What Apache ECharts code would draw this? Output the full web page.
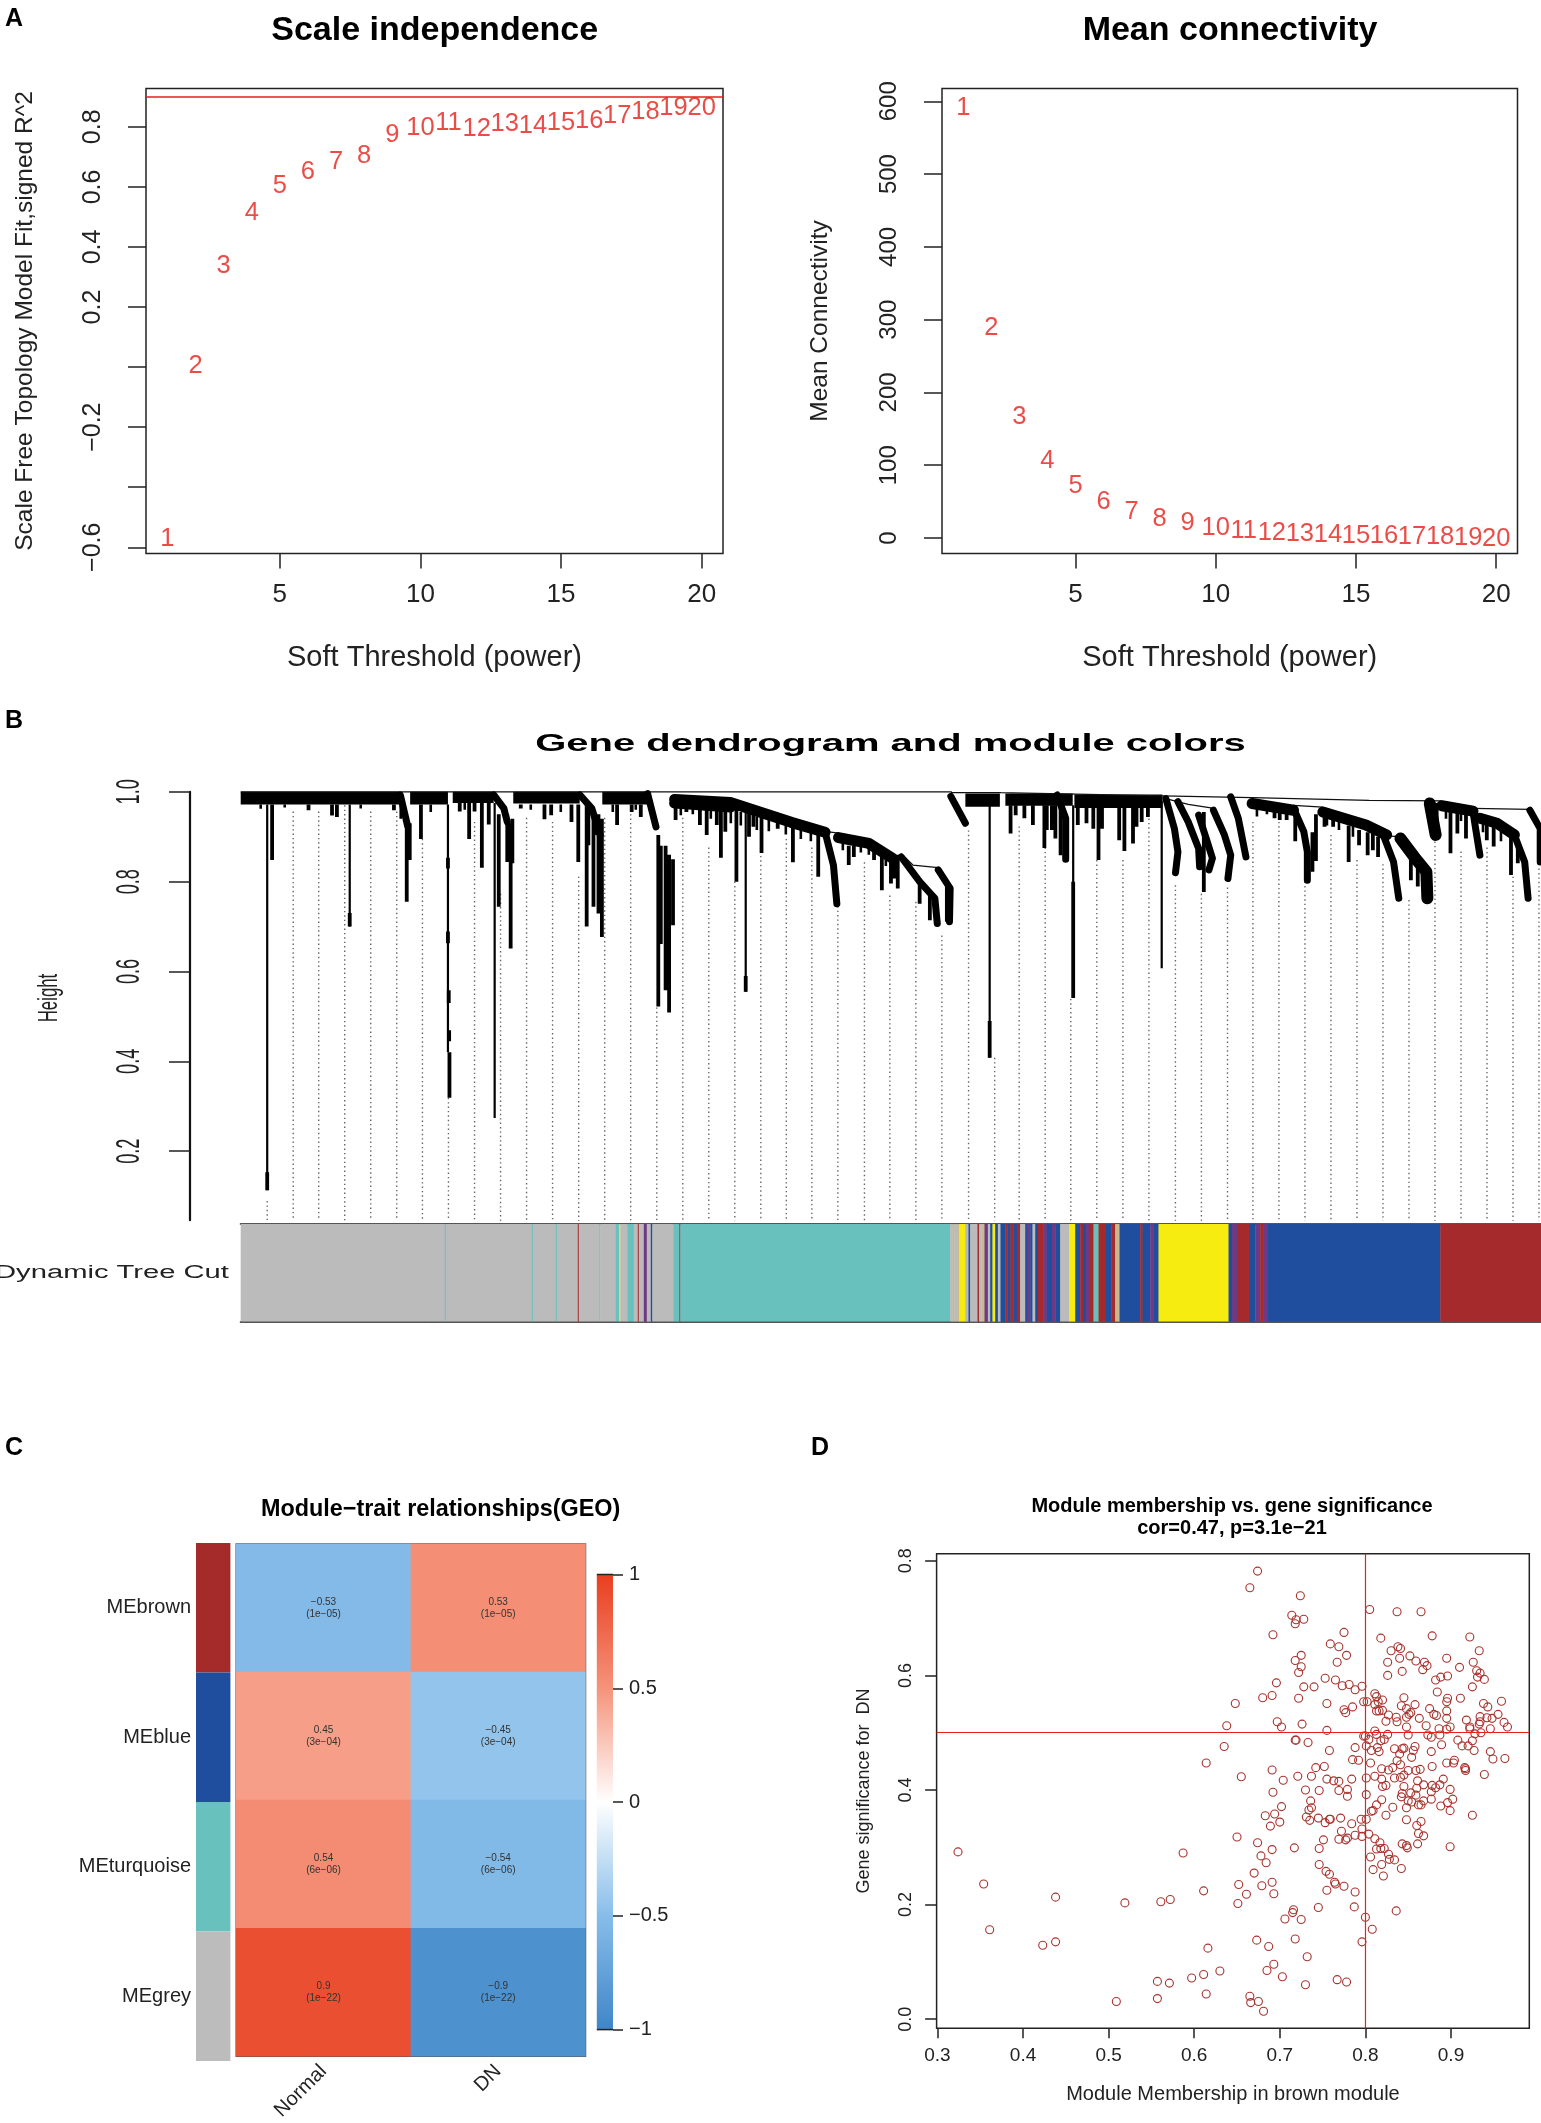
<!DOCTYPE html>
<html><head><meta charset="utf-8">
<style>html,body{margin:0;padding:0;background:#fff}#c{width:1541px;height:2123px}</style>
<script src="https://cdn.jsdelivr.net/npm/echarts@6/dist/echarts.min.js"></script>
</head><body><div id="c"></div>
<script>
// ---------- Panel A ----------
const powers=[1,2,3,4,5,6,7,8,9,10,11,12,13,14,15,16,17,18,19,20];
const scaleFit=[-0.564,0.012,0.344,0.521,0.61,0.656,0.69,0.709,0.781,0.803,0.818,0.80,0.815,0.81,0.818,0.825,0.842,0.856,0.868,0.868];
const meanK=[593,291,169,108,74,52,39,29,23,17,13,10,9,7,6,5,4,3.7,3,2];
const cutHeight=0.9;
// ---------- Panel B : gene rank (0-1300) and tree height ----------
const guideX=[26.5,52.5,78,104,130,156,181.7,207.7,233.8,259.8,285.8,311.8,337.9,363.9,389.9,416,442,468,494,520,545.5,571,597,623.6,649,675,701,727.7,753.8,778.3,804.3,829.9,855.9,882,908,934.5,960.5,986.6,1012,1038,1064,1090,1116,1142,1168,1194,1220,1246,1272,1298];
const guideTop=[.089,.956,.956,.97,.956,.956,.895,.319,.933,.773,.942,.933,.811,.942,.96,.52,.942,.876,.80,.867,.895,.876,.755,.843,.769,.755,.68,.914,.408,.923,.876,.539,.848,.848,.96,.792,.773,.787,.933,.933,.80,.904,.848,.839,.759,.909,.867,.876,.811,.829];
const topBands=[[0,159.6,1,.972],[169.4,207.2,1,.972],[212,252.9,1,.975],[272.5,338.9,1,.974],[361.5,407.6,1,.972],[724.5,759,.996,.967],[764.5,831.8,.996,.969],[833.5,921.5,.994,.964]];
const thinLinks=[[[0,1],[711,1]],[[759.3,.998],[921.5,.991],[1011,.987],[1128,.981],[1200.9,.98]],[[924.9,.985],[947.3,.972],[973.2,.963]],[[1052.6,.97],[1081.9,.966]],[[1145.7,.902],[1157.8,.9]],[[1232,.963],[1288.9,.961]],[[660.3,.863],[672,.837],[697.4,.831]],[[584.2,.912],[597.7,.908]],[[710,.998],[760,.998]]];
const longSpikes=[[26.5,.972,.113],[207.2,.972,.42],[253.9,.975,.274],[748.8,.97,.408],[832.3,.97,.541],[920.8,.98,.607],[504.9,.975,.555],[109,.972,.70]];
const thickSpikes=[[26.5,.153,.113],[207.2,.853,.829],[207.2,.689,.663],[208,.558,.53],[208.4,.469,.445],[208.7,.42,.319],[748.8,.49,.408],[832.3,.8,.541],[504.9,.59,.555],[109,.73,.70],
[31.4,.972,.848],[67.8,.972,.959],[91.3,.972,.947],[96.2,.972,.944],[153.2,.972,.959],[166,.923,.755],[169,.93,.848],[180.2,.972,.895],[219,.975,.956],[228.4,.975,.895],[233.8,.975,.956],[241.1,.975,.831],[248,.975,.927],[258,.95,.744],[266.5,.95,.844],[269.9,.93,.651],[271.6,.94,.841],[280,.972,.963],[303.7,.972,.939],[310.4,.972,.948],[330.7,.972,.933],[337.5,.972,.844],[345.9,.97,.70],[347.6,.96,.881],[352.7,.96,.744],[354.4,.95,.904],[357.7,.95,.729],[361.1,.94,.677],[376.3,.972,.926],[390.9,.972,.955],[400,.972,.944],[417.5,.904,.522],[420,.88,.661],[424.8,.88,.558],[428.3,.86,.509],[432.2,.85,.703],
[434.8,.98,.937],[445.6,.98,.955],[459.1,.98,.926],[465.9,.98,.904],[476,.98,.926],[480.1,.98,.853],[484.5,.98,.911],[495.6,.975,.80],[508.2,.96,.90],[512.6,.96,.922],[520.7,.95,.864],[536.9,.94,.918],[552.1,.93,.843],[577.4,.91,.811],[607.9,.88,.837],[613,.88,.855],[633.2,.88,.848],[641,.87,.781],[650.1,.86,.796],[653.5,.86,.807],[656.9,.86,.785],[678.8,.80,.751],[689,.77,.714],[706,.79,.711],
[769.7,.97,.907],[774.8,.97,.948],[783.5,.97,.941],[792,.97,.926],[803.5,.97,.875],[805.9,.97,.915],[811,.97,.915],[814.5,.97,.896],[819.7,.97,.859],[836.9,.97,.926],[845.6,.97,.93],[852.4,.97,.918],[857.6,.97,.848],[861.1,.97,.918],[878.3,.97,.892],[883.5,.97,.868],[892.1,.97,.885],[895.6,.97,.922],[900.8,.97,.933],[907,.97,.944],[962.9,.955,.777],[1033.6,.965,.941],[1038.8,.965,.937],[1045.7,.965,.937],[1054.3,.96,.89],[1071.5,.91,.822],[1075,.95,.846],[1083.6,.95,.922],[1092.2,.94,.922],[1107.7,.925,.844],[1118.1,.915,.881],[1126.7,.91,.859],[1131.9,.91,.87],[1137.1,.90,.855],[1169.9,.87,.803],[1176.8,.86,.789],[1190.6,.97,.915],[1195.7,.975,.90],[1209.5,.96,.863],[1216.4,.96,.907],[1225,.955,.896],[1245.8,.935,.892],[1252.7,.93,.878],[1270,.90,.815],[1276.8,.89,.841]];
const fringe=[[160,.97,.94],[20,.972,.962],[44,.972,.965],[120,.972,.963],[190,.972,.955],[224,.975,.96],[290,.972,.96],[320,.972,.955],[350,.972,.95],[372,.972,.955],[395,.972,.96],[440,.97,.948],[452,.97,.95],[470,.97,.94],[490,.965,.93],[500,.955,.925],[516,.945,.915],[528,.94,.912],[545,.93,.905],[560,.92,.895],[570,.915,.89],[602,.895,.87],[620,.885,.865],[628,.88,.86],[645,.865,.835],[1016,.97,.945],[1026,.97,.95],[1086,.95,.925],[1098,.94,.915],[1112,.93,.9],[1205,.965,.94],[1220,.96,.935],[1242,.94,.91],[1260,.925,.89]];
const wideArcs=[[[433.8,.983],[489.6,.976],[550.4,.932],[584.2,.91]],[[433.8,.975],[489.6,.966]],[[597.7,.898],[628.1,.885],[651.8,.852]],[[1011.2,.974],[1052.6,.959]],[[1081.9,.955],[1125,.926],[1145.7,.904]],[[1200.9,.969],[1232,.957]],[[1238.9,.941],[1256,.93],[1273.4,.904]]];
const mediumArcs=[[[406.8,.996],[415.2,.922]],[[710,.99],[724.5,.93]],[[660.3,.855],[678.8,.80],[694,.763],[696.4,.707]],[[697.4,.826],[709.3,.785],[708.6,.711]],[[584.2,.911],[592.6,.837],[596,.751]],[[339.2,.993],[351,.963],[359.4,.904]],[[253,.993],[263.1,.963],[266.5,.933]],[[816.2,.993],[824.8,.941],[824.8,.85]],[[989.8,.989],[997.4,.941],[1005,.855]],[[924.9,.985],[933.5,.918],[937,.866],[934.6,.82]],[[937,.978],[947.3,.933],[957.7,.874],[958.7,.833]],[[957.7,.948],[966.3,.889],[971.5,.852],[968,.826]],[[972.5,.959],[983.5,.904],[989.8,.859],[987,.807]],[[1052.6,.963],[1062.9,.911],[1066.4,.866],[1066.4,.803]],[[1142.3,.904],[1152.6,.844],[1157.8,.763]],[[1232,.955],[1238.9,.859]],[[1273.4,.904],[1283.7,.844],[1287.1,.763]],[[1288.9,.959],[1299.2,.918],[1299.2,.844]],[[159.6,.993],[167,.923]]];
const heavyArcs=[[[1159.5,.896],[1173.3,.855],[1185.4,.822],[1186.4,.763]],[[1188.8,.974],[1194.7,.904]]];
const moduleSegments=[[204,'g'],[205,'t'],[291,'g'],[292,'t'],[315,'g'],[316,'t'],[337,'g'],[338,'r'],[358.5,'g'],[359.5,'t'],[375,'g'],[378.5,'t'],[379.5,'y'],[386.5,'g'],[393,'t'],[397,'g'],[398,'r'],[403,'g'],[406,'p'],[410,'g'],[411.5,'b'],[432.5,'g'],[438.5,'t'],[439.5,'r'],[709.3,'t'],[711.6,'g'],[713.3,'o'],[716.3,'g'],[718.3,'o'],[724.3,'y'],[727.6,'g'],[729.3,'b'],[736.6,'g'],[738.3,'r'],[740.3,'g'],[743.6,'o'],[747,'p'],[749.3,'g'],[751.6,'b'],[754.3,'y'],[757,'b'],[759.6,'g'],[764.3,'b'],[766.3,'r'],[769.6,'b'],[772.6,'r'],[776,'b'],[779.3,'r'],[784.3,'g'],[786,'b'],[789.3,'p'],[791.6,'b'],[794.3,'g'],[797,'b'],[802.6,'r'],[806,'p'],[811,'b'],[814.3,'p'],[819.3,'b'],[828.3,'g'],[834.3,'y'],[839.3,'b'],[842,'r'],[845,'b'],[848,'p'],[852.6,'r'],[857.6,'t'],[865,'r'],[870.3,'b'],[874.3,'r'],[878.6,'o'],[899.3,'b'],[901.6,'r'],[909.3,'b'],[912.6,'p'],[917.6,'b'],[987.6,'y'],[991,'b'],[996,'p'],[1008.7,'r'],[1014.3,'b'],[1019.3,'p'],[1022.6,'r'],[1027,'p'],[1199.3,'b'],[1300,'r']];
const moduleColors={g:'#BBBBBB',t:'#68C1BD',y:'#F7EC0F',b:'#1F4E9F',r:'#A42A2B',p:'#6E3A86',o:'#C9B98F'};
const heightTicks=[.2,.4,.6,.8,1];
// ---------- Panel C ----------
const modules=['MEbrown','MEblue','MEturquoise','MEgrey'];
const moduleFill=['#A52A2A','#1F4E9F','#68C1BD','#BCBCBC'];
const traits=['Normal','DN'];
const corNormal=[-0.53,0.45,0.54,0.9];
const corDN=[0.53,-0.45,-0.54,-0.9];
const pValues=['1e−05','3e−04','6e−06','1e−22'];
const corrTicks=[-1,-.5,0,.5,1];
const corrPalette=['#3F86C8','#87BDEA','#FFFFFF','#F5937A','#E93E1F'];
// ---------- Panel D ----------
const brownPoints=[[.324,.292],[.354,.236],[.361,.156],[.423,.129],[.438,.135],[.438,.213],[.519,.203],[.509,.031],[.561,.205],[.572,.209],[.557,.066],[.557,.036],[.571,.063],[.597,.072],[.587,.29],[.611,.224],[.611,.078],[.614,.044],[.616,.124],[.63,.084],[.614,.447],[.635,.476],[.638,.512],[.648,.551],[.655,.423],[.65,.318],[.652,.235],[.651,.202],[.661,.218],[.665,.04],[.666,.029],[.675,.031],[.681,.014],[.665,.753],[.674,.782],[.685,.085],[.673,.138],[.687,.127],[.693,.096],[.703,.074],[.67,.255],[.674,.308],[.678,.285],[.684,.273],[.679,.233],[.691,.239],[.693,.219],[.691,.296],[.689,.337],[.683,.355],[.694,.358],[.7,.344],[.702,.371],[.692,.396],[.691,.435],[.704,.417],[.721,.424],[.68,.561],[.691,.565],[.696,.587],[.692,.671],[.697,.519],[.702,.51],[.718,.487],[.719,.487],[.726,.515],[.722,.56],[.728,.58],[.74,.58],[.722,.605],[.725,.615],[.718,.626],[.725,.635],[.714,.705],[.719,.697],[.718,.69],[.728,.698],[.724,.739],[.733,.483],[.737,.424],[.742,.439],[.752,.441],[.73,.4],[.746,.399],[.736,.381],[.737,.369],[.734,.365],[.731,.353],[.735,.347],[.745,.351],[.753,.343],[.758,.349],[.759,.349],[.771,.351],[.772,.328],[.769,.314],[.777,.313],[.779,.316],[.784,.341],[.751,.313],[.746,.298],[.717,.299],[.746,.27],[.754,.258],[.758,.253],[.764,.239],[.765,.236],[.775,.232],[.755,.225],[.788,.222],[.745,.195],[.716,.191],[.715,.186],[.706,.175],[.725,.174],[.718,.14],[.732,.109],[.73,.06],[.767,.069],[.778,.065],[.796,.135],[.787,.196],[.8,.178],[.808,.157],[.836,.189],[.759,.655],[.769,.65],[.775,.675],[.778,.635],[.767,.623],[.753,.595],[.765,.592],[.773,.582],[.781,.584],[.788,.575],[.796,.581],[.755,.551],[.775,.54],[.777,.535],[.785,.545],[.755,.504],[.758,.469],[.788,.474],[.785,.453],[.792,.452],[.755,.419],[.763,.416],[.769,.415],[.784,.419],[.769,.399],[.779,.401],[.779,.389],[.801,.421],[.801,.392],[.795,.349],[.801,.349],[.796,.332],[.788,.321],[.796,.319],[.804,.323],[.798,.554],[.802,.554],[.798,.494],[.8,.494],[.804,.488],[.801,.477],[.811,.568],[.813,.563],[.805,.715],[.818,.665],[.837,.711],[.865,.711],[.878,.669],[.922,.667],[.838,.65],[.841,.647],[.83,.643],[.933,.643],[.852,.634],[.84,.63],[.895,.63],[.826,.623],[.859,.625],[.869,.623],[.872,.617],[.867,.61],[.843,.607],[.91,.614],[.926,.623],[.93,.608],[.934,.604],[.931,.597],[.826,.6],[.939,.593],[.882,.592],[.888,.597],[.896,.599],[.925,.58],[.884,.571],[.911,.56],[.896,.56],[.895,.554],[.845,.561],[.82,.557],[.842,.547],[.848,.542],[.858,.549],[.938,.551],[.943,.545],[.959,.555],[.815,.554],[.811,.549],[.813,.538],[.816,.538],[.82,.539],[.875,.542],[.853,.535],[.851,.532],[.848,.527],[.836,.527],[.837,.519],[.824,.52],[.827,.531],[.863,.525],[.88,.532],[.883,.53],[.895,.538],[.895,.525],[.918,.522],[.934,.528],[.934,.519],[.942,.526],[.948,.525],[.955,.532],[.962,.518],[.966,.51],[.946,.507],[.933,.515],[.922,.51],[.922,.507],[.899,.51],[.895,.506],[.871,.512],[.886,.507],[.848,.51],[.811,.503],[.813,.497],[.826,.497],[.85,.496],[.873,.496],[.877,.492],[.887,.496],[.935,.5],[.928,.498],[.925,.486],[.908,.487],[.913,.477],[.92,.477],[.927,.469],[.889,.479],[.877,.467],[.858,.476],[.843,.472],[.834,.472],[.845,.473],[.84,.463],[.854,.457],[.856,.469],[.816,.467],[.807,.469],[.814,.474],[.818,.486],[.822,.488],[.837,.451],[.841,.444],[.806,.447],[.819,.437],[.811,.424],[.819,.419],[.827,.435],[.832,.439],[.85,.434],[.859,.434],[.864,.436],[.878,.441],[.895,.447],[.903,.447],[.904,.452],[.916,.439],[.917,.437],[.917,.434],[.946,.467],[.949,.454],[.963,.455],[.939,.427],[.834,.421],[.841,.422],[.845,.426],[.861,.416],[.891,.419],[.887,.409],[.878,.408],[.882,.404],[.868,.409],[.86,.403],[.845,.406],[.82,.406],[.824,.408],[.899,.401],[.877,.397],[.843,.394],[.842,.388],[.853,.395],[.859,.391],[.85,.381],[.854,.379],[.819,.383],[.813,.374],[.832,.37],[.848,.369],[.862,.374],[.865,.374],[.868,.381],[.877,.384],[.888,.372],[.896,.378],[.902,.384],[.899,.364],[.925,.356],[.807,.363],[.809,.364],[.824,.356],[.848,.348],[.865,.345],[.86,.338],[.862,.324],[.868,.32],[.811,.315],[.817,.308],[.843,.306],[.861,.306],[.848,.303],[.849,.299],[.899,.301],[.813,.297],[.818,.298],[.822,.298],[.827,.288],[.806,.283],[.828,.279],[.834,.278],[.819,.27],[.809,.261],[.842,.263],[.821,.25]];
const brownCutX=0.8, brownCutY=0.5;

// ---------- helpers ----------
const FF='"Liberation Sans",Arial,sans-serif', INK='#222';
const spikesPath=l=>{const o=[];l.forEach(s=>{o.push([s[0],s[1]],[s[0],s[2]],[null,null]);});return o;};
const arcsPath=l=>{const o=[];l.forEach(a=>{a.forEach(p=>o.push(p));o.push([null,null]);});return o;};
const pathSeries=(data,width,color,idx,extra)=>Object.assign({type:'line',xAxisIndex:idx,yAxisIndex:idx,data,showSymbol:false,symbol:'none',silent:true,clip:false,connectNulls:false,lineStyle:{width,color}},extra||{});
const arcSeries=(data,width)=>pathSeries(data,width,'#000',2,{lineStyle:{width,color:'#000',cap:'round',join:'round'}});
const rectItem=(params,api)=>{const a=api.coord([api.value(0),api.value(2)]),b=api.coord([api.value(1),api.value(3)]);return {type:'rect',shape:{x:a[0],y:a[1],width:b[0]-a[0],height:b[1]-a[1]},style:{fill:'#000'}};};

const noLine={show:false,onZero:false};
const tick=(len,w)=>({show:true,length:len,lineStyle:{color:INK,width:w||1.5}});
function softAxis(){return {type:'value',min:.24,max:20.76,axisLine:noLine,splitLine:{show:false},
  axisTick:Object.assign(tick(15),{customValues:[5,10,15,20]}),
  axisLabel:{customValues:[5,10,15,20],fontFamily:FF,fontSize:26,color:INK,margin:28},
  name:'Soft Threshold (power)',nameLocation:'middle',nameGap:90,nameTextStyle:{fontFamily:FF,fontSize:29,color:INK}};}
function softSeries(values,idx,line){const s={type:'scatter',xAxisIndex:idx,yAxisIndex:idx,symbolSize:1,itemStyle:{color:'rgba(0,0,0,0)'},silent:true,
  data:powers.map((p,i)=>[p,values[i]]),
  label:{show:true,position:'inside',offset:[0,2],formatter:p=>String(p.value[0]),fontFamily:FF,fontSize:25.5,color:'#E5211A'}};
  if(line!=null)s.markLine={silent:true,symbol:'none',animation:false,label:{show:false},lineStyle:{color:'#E5211A',width:1.6,type:'solid'},data:[{yAxis:line}]};
  return s;}

const grids=[
 {left:146,top:88.4,width:577,height:465.2,show:true,borderColor:INK,borderWidth:1.5,backgroundColor:'transparent'},
 {left:942,top:88.4,width:575.5,height:465.2,show:true,borderColor:INK,borderWidth:1.5,backgroundColor:'transparent'},
 {left:240.7,top:791.8,width:1300.3,height:428.4,show:false},
 {left:240.7,top:1224,width:1300.3,height:97.6,show:false},
 {left:196,top:1543,width:34.4,height:518,show:false},
 {left:236.2,top:1544,width:349.3,height:515.7,show:true,borderColor:'#555',borderWidth:1.5,backgroundColor:'transparent'},
 {left:596.8,top:1574.5,width:16.2,height:455.1,show:false},
 {left:936.6,top:1553.8,width:592.7,height:474.4,show:true,borderColor:INK,borderWidth:1.5,backgroundColor:'transparent'}
];
const none={show:false};
const stripEdge=pos=>({gridIndex:3,type:'value',min:0,max:1300,position:pos,axisLine:{show:true,onZero:false,lineStyle:{color:'#555',width:2}},axisTick:none,axisLabel:none,splitLine:none});
const xAxes=[
 Object.assign(softAxis(),{gridIndex:0}),
 Object.assign(softAxis(),{gridIndex:1}),
 {gridIndex:2,type:'value',min:0,max:1300,show:false},
 stripEdge('bottom'),
 {gridIndex:4,type:'value',min:0,max:1,show:false},
 {gridIndex:5,type:'category',data:traits,position:'bottom',axisLine:noLine,axisTick:none,splitLine:none,axisLabel:{rotate:45,fontFamily:FF,fontSize:20,color:INK,margin:12}},
 {gridIndex:6,type:'value',min:0,max:1,show:false},
 {gridIndex:7,type:'value',min:.299,max:.9915,axisLine:noLine,splitLine:none,
  axisTick:Object.assign(tick(10),{customValues:[.3,.4,.5,.6,.7,.8,.9]}),
  axisLabel:{customValues:[.3,.4,.5,.6,.7,.8,.9],formatter:v=>v.toFixed(1),fontFamily:FF,fontSize:19,color:INK,margin:18},
  name:'Module Membership in brown module',nameLocation:'middle',nameGap:56,nameTextStyle:{fontFamily:FF,fontSize:20,color:INK}},
 stripEdge('top')
];
const yAxes=[
 {gridIndex:0,type:'value',min:-.621,max:.928,axisLine:noLine,splitLine:none,
  axisTick:Object.assign(tick(18),{customValues:[-.6,-.4,-.2,0,.2,.4,.6,.8]}),
  axisLabel:{customValues:[-.6,-.2,.2,.4,.6,.8],rotate:90,formatter:v=>v.toFixed(1).replace('-','−'),fontFamily:FF,fontSize:25,color:INK,margin:40},
  name:'Scale Free Topology Model Fit,signed R^2',nameLocation:'middle',nameGap:108,nameTextStyle:{fontFamily:FF,fontSize:24.5,color:INK}},
 {gridIndex:1,type:'value',min:-21.4,max:617.7,axisLine:noLine,splitLine:none,
  axisTick:Object.assign(tick(18),{customValues:[0,100,200,300,400,500,600]}),
  axisLabel:{customValues:[0,100,200,300,400,500,600],rotate:90,fontFamily:FF,fontSize:24,color:INK,margin:41},
  name:'Mean Connectivity',nameLocation:'middle',nameGap:109,nameTextStyle:{fontFamily:FF,fontSize:24.5,color:INK}},
 {gridIndex:2,type:'value',min:.0464,max:1,offset:50.7,position:'left',splitLine:none,axisLine:{show:true,onZero:false,lineStyle:{color:'#111',width:2.2}},
  axisTick:Object.assign(tick(21),{customValues:heightTicks}),axisLabel:{show:false}},
 {gridIndex:3,type:'value',min:0,max:1,show:false},
 {gridIndex:4,type:'category',data:modules,inverse:true,axisLine:noLine,axisTick:none,splitLine:none,axisLabel:{fontFamily:FF,fontSize:20,color:INK,margin:5,padding:[6,0,0,0]}},
 {gridIndex:5,type:'category',data:modules,inverse:true,axisLine:noLine,axisTick:none,axisLabel:none,splitLine:none},
 {gridIndex:6,type:'value',min:-1,max:1,position:'right',splitLine:none,axisLine:noLine,
  axisTick:Object.assign(tick(10),{customValues:corrTicks}),
  axisLabel:{customValues:corrTicks,formatter:v=>String(v).replace('-','−'),fontFamily:FF,fontSize:20,color:INK,margin:16}},
 {gridIndex:7,type:'value',min:-.0157,max:.8122,axisLine:noLine,splitLine:none,
  axisTick:Object.assign(tick(11.5),{customValues:[0,.2,.4,.6,.8]}),
  axisLabel:{customValues:[0,.2,.4,.6,.8],rotate:90,formatter:v=>v.toFixed(1),fontFamily:FF,fontSize:18,color:INK,margin:22},
  name:'Gene significance for  DN',nameLocation:'middle',nameGap:64,nameTextStyle:{fontFamily:FF,fontSize:18,color:INK}}
];

const guideSegments=guideX.map((x,i)=>[x,guideTop[i],.045]);
const heatData=[];modules.forEach((m,i)=>{heatData.push([0,i,corNormal[i]]);heatData.push([1,i,corDN[i]]);});
const stripData=moduleSegments.map((s,i)=>[i?moduleSegments[i-1][0]:0,s[0],s[1]]);

const series=[
 softSeries(scaleFit,0,cutHeight),
 softSeries(meanK,1,null),
 // dendrogram
 pathSeries(spikesPath(guideSegments),1.4,'#666',2,{lineStyle:{width:1.4,color:'#666',type:[1.4,3]}}),
 {type:'custom',xAxisIndex:2,yAxisIndex:2,silent:true,clip:false,data:topBands,renderItem:rectItem,encode:{x:[0,1],y:[2,3]}},
 pathSeries(arcsPath(thinLinks),1.3,'#111',2),
 pathSeries(spikesPath(longSpikes),2.2,'#000',2),
 pathSeries(spikesPath(thickSpikes),3.8,'#000',2),
 pathSeries(spikesPath(fringe),2.6,'#000',2),
 arcSeries(arcsPath(wideArcs),11),
 arcSeries(arcsPath(mediumArcs),7),
 arcSeries(arcsPath(heavyArcs),12),
 {type:'custom',xAxisIndex:2,yAxisIndex:2,silent:true,clip:false,data:heightTicks.map(v=>[v]),encode:{y:0},
  renderItem:(p,api)=>{const c=api.coord([0,api.value(0)]);return {type:'text',x:130,y:c[1],rotation:Math.PI/2,scaleX:.55,style:{text:api.value(0).toFixed(1),font:'33px '+FF,fill:INK,align:'center',verticalAlign:'middle'}};}},
 // module strip
 {type:'custom',xAxisIndex:3,yAxisIndex:3,silent:true,data:stripData,encode:{x:[0,1]},
  renderItem:(p,api)=>{const a=api.coord([api.value(0),1]),b=api.coord([api.value(1),0]);return {type:'rect',shape:{x:a[0],y:a[1],width:b[0]-a[0]+.4,height:b[1]-a[1]},style:{fill:moduleColors[stripData[p.dataIndex][2]]}};}},
 // side colour strip
 {type:'bar',xAxisIndex:4,yAxisIndex:4,barWidth:'100%',silent:true,data:moduleFill.map(c=>({value:1,itemStyle:{color:c}}))},
 // heatmap
 {type:'heatmap',xAxisIndex:5,yAxisIndex:5,data:heatData,silent:true,
  label:{show:true,fontFamily:FF,fontSize:10,lineHeight:12,color:'#333',
   formatter:p=>String(p.value[2]).replace('-','−')+'\n('+pValues[p.value[1]]+')'}},
 // colour bar
 {type:'custom',xAxisIndex:6,yAxisIndex:6,silent:true,data:[[0,1,1,-1]],encode:{x:[0,1],y:[2,3]},
  renderItem:(p,api)=>{const a=api.coord([0,1]),b=api.coord([1,-1]);
   return {type:'group',children:[
    {type:'rect',shape:{x:a[0],y:a[1],width:b[0]-a[0],height:b[1]-a[1]},style:{fill:new echarts.graphic.LinearGradient(0,1,0,0,corrPalette.map((c,i)=>({offset:i/(corrPalette.length-1),color:c})))}},
    {type:'line',shape:{x1:a[0],y1:a[1],x2:b[0],y2:a[1]},style:{stroke:INK,lineWidth:1.5}},
    {type:'line',shape:{x1:a[0],y1:b[1],x2:b[0],y2:b[1]},style:{stroke:INK,lineWidth:1.5}}]};}},
 // scatter
 {type:'scatter',xAxisIndex:7,yAxisIndex:7,data:brownPoints,symbol:'circle',symbolSize:8,silent:true,
  itemStyle:{color:'rgba(0,0,0,0)',borderColor:'#A8332E',borderWidth:1.1,opacity:1},
  markLine:{silent:true,symbol:'none',animation:false,label:{show:false},lineStyle:{color:'#E5211A',width:1.2,type:'solid'},data:[{xAxis:brownCutX},{yAxis:brownCutY}]}}
];

const ttl=(text,x,y,size)=>({text,left:x,top:y,padding:0,textAlign:'center',textVerticalAlign:'middle',textStyle:{fontFamily:FF,fontSize:size,fontWeight:'bold',color:'#000'}});
const gtext=(text,x,y,font,o)=>Object.assign({type:'text',x,y,silent:true,style:{text,font:font+' '+FF,fill:'#000',align:'center',verticalAlign:'middle'}},o||{});

const option={animation:false,backgroundColor:'#fff',grid:grids,xAxis:xAxes,yAxis:yAxes,series,
 visualMap:{type:'continuous',show:false,min:-1,max:1,seriesIndex:series.findIndex(s=>s.type==='heatmap'),inRange:{color:corrPalette}},
 title:[ttl('A',14,19,25),ttl('Scale independence',434.7,30.7,34),ttl('Mean connectivity',1230,30.7,34),ttl('B',14,721,25),ttl('C',14,1448,25),ttl('D',820,1448,25),
  ttl('Module−trait relationships(GEO)',440.6,1510,23.4),ttl('Module membership vs. gene significance',1232,1506.5,20),ttl('cor=0.47, p=3.1e−21',1232,1528.5,20)],
 graphic:[
  gtext('Gene dendrogram and module colors',890.5,744,'bold 24px',{scaleX:1.665}),
  gtext('Dynamic Tree Cut',112,1273,'18px',{scaleX:1.62,style:{text:'Dynamic Tree Cut',font:'18px '+FF,fill:INK,align:'center',verticalAlign:'middle'}}),
  gtext('Height',49,998,'28px',{rotation:Math.PI/2,scaleX:.6,style:{text:'Height',font:'28px '+FF,fill:INK,align:'center',verticalAlign:'middle'}})
 ]};
const chart=echarts.init(document.getElementById('c'),null,{width:1541,height:2123});
chart.setOption(option);
</script></body></html>
